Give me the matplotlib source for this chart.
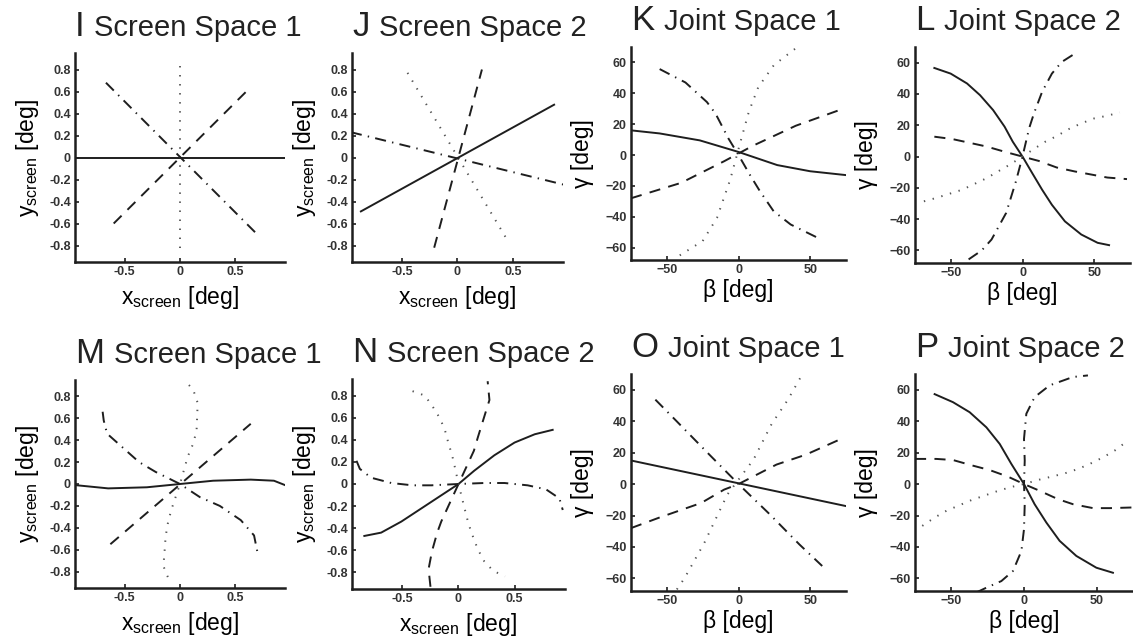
import matplotlib
matplotlib.use('Agg')
import matplotlib.pyplot as plt

plt.rcParams['font.family'] = ['Liberation Sans', 'DejaVu Sans']
plt.rcParams['mathtext.default'] = 'regular'
plt.rcParams['lines.scale_dashes'] = False

# panel titles
letters = ['I', 'J', 'K', 'L', 'M', 'N', 'O', 'P']
titles = ['Screen Space 1', 'Screen Space 2', 'Joint Space 1', 'Joint Space 2',
          'Screen Space 1', 'Screen Space 2', 'Joint Space 1', 'Joint Space 2']

screen_xticks = [-0.5, 0, 0.5]
screen_yticks = [-0.8, -0.6, -0.4, -0.2, 0, 0.2, 0.4, 0.6, 0.8]
joint_xticks = [-50, 0, 50]
joint_yticks = [-60, -40, -20, 0, 20, 40, 60]

# curves as (x, y) points
# I: screen space 1
i_solid = [(-0.95, 0), (0.95, 0)]
i_dash = [(-0.6, -0.6), (0.6, 0.6)]
i_dot = [(0, -0.82), (0, 0.9)]
i_dashdot = [(-0.67, 0.68), (0.68, -0.68)]

# J: screen space 2
j_solid = [(-0.87, -0.49), (0.87, 0.48)]
j_dash = [(-0.21, -0.82), (0.22, 0.8)]
j_dot = [(-0.45, 0.77), (0.46, -0.77)]
j_dashdot = [(-0.96, 0.23), (0.97, -0.25)]

# K: joint space 1
k_solid = [(-75, 16), (-55, 14), (-27, 9.5), (0, 2), (27, -6.5), (50, -10.5), (75, -13)]
k_dash = [(-75, -28), (-40, -18), (-10, -4), (10, 6), (40, 19), (73, 30)]
k_dot = [(-41, -65), (-25, -55.7), (-15, -40.7), (-5.8, -16), (2, 10.7),
         (7.2, 28), (13.8, 44), (24.7, 58.3), (39.7, 69)]
k_dashdot = [(-55, 55.7), (-37, 47), (-22, 34.3), (-16, 26.8), (-7, 10.7), (0, 0),
             (8, -12.9), (15, -23.5), (24.5, -36.4), (36.4, -45), (55, -53.5)]

# L: joint space 2
l_solid = [(-61.5, 56.6), (-50.1, 53.0), (-38.7, 46.7), (-29.6, 39.2), (-20.5, 29.7),
           (-12.5, 19.1), (-6.8, 9.5), (0, 0), (6.8, -10.6), (13.7, -21.2),
           (20.5, -30.8), (29.6, -41.4), (41, -49.8), (52.4, -55.1), (60.4, -56.6)]
l_dash = [(-61.5, 12.7), (-49, 11.2), (-25, 6.4), (-11.4, 2.8), (0, 0), (11.4, -2.8),
          (23.9, -7), (36.4, -9.5), (59.2, -13.4), (72.9, -14.4)]
l_dot = [(-68.8, -28.6), (-60.4, -26.5), (-42.1, -21.2), (-25, -13.8), (-17.1, -9.5),
         (-9.1, -5.3), (0, 0), (8, 4.9), (15.9, 9.5), (23.9, 13.1), (31.9, 17.4),
         (41, 21.2), (50.1, 24.4), (59.2, 26.1), (67.9, 28.2)]
l_dashdot = [(-37.6, -65.7), (-28.5, -60), (-21.6, -53), (-11.4, -36), (-4.6, -15.9),
             (0, 0), (4.6, 18), (8, 27.6), (13.7, 41.4), (20.5, 53), (27.3, 60.4),
             (36.4, 65.7)]

# M: screen space 1
m_solid = [(-0.95, -0.01), (-0.65, -0.04), (-0.3, -0.03), (0, 0), (0.3, 0.03),
           (0.64, 0.04), (0.85, 0.03), (0.95, -0.01)]
m_dash = [(-0.63, -0.55), (0.64, 0.55)]
m_dot = [(-0.11, -0.85), (-0.15, -0.75), (-0.14, -0.62), (-0.13, -0.48), (-0.11, -0.36),
         (-0.08, -0.24), (0, 0), (0.07, 0.25), (0.12, 0.37), (0.15, 0.49),
         (0.16, 0.74), (0.12, 0.86), (0.04, 0.95)]
m_dashdot = [(-0.7, 0.66), (-0.69, 0.58), (-0.66, 0.46), (-0.37, 0.2), (-0.22, 0.11),
             (0, 0), (0.18, -0.12), (0.36, -0.2), (0.55, -0.33), (0.67, -0.47),
             (0.7, -0.62)]

# N: screen space 2
n_solid = [(-0.84, -0.47), (-0.69, -0.44), (-0.51, -0.34), (-0.33, -0.22), (-0.15, -0.1),
           (0, 0), (0.14, 0.12), (0.32, 0.26), (0.5, 0.375), (0.68, 0.45), (0.84, 0.49)]
n_dash = [(-0.25, -0.93), (-0.267, -0.77), (-0.237, -0.61), (-0.19, -0.44),
          (-0.154, -0.34), (0, 0), (0.137, 0.3), (0.172, 0.42), (0.23, 0.61),
          (0.276, 0.76), (0.26, 0.93)]
n_dot = [(-0.41, 0.84), (-0.30, 0.80), (-0.23, 0.70), (-0.163, 0.59), (-0.119, 0.48),
         (-0.089, 0.366), (-0.056, 0.256), (-0.027, 0.128), (0, 0), (0.03, -0.122),
         (0.059, -0.24), (0.089, -0.36), (0.128, -0.473), (0.172, -0.59),
         (0.23, -0.70), (0.31, -0.786), (0.415, -0.836)]
n_dashdot = [(-0.91, 0.21), (-0.88, 0.137), (-0.78, 0.057), (-0.6, 0.009), (-0.41, -0.012),
             (-0.243, -0.012), (0, 0), (0.23, 0.009), (0.41, 0.009), (0.617, -0.012),
             (0.78, -0.048), (0.9, -0.13), (0.93, -0.235)]

# O: joint space 1
o_solid = [(-75, 15), (75, -14)]
o_dash = [(-75, -28), (-55.8, -21.5), (-26, -12), (-10, -3.5), (0, 0), (12.8, 6),
          (26.5, 12.4), (47, 18.7), (73, 29.3)]
o_dot = [(-43, -67), (-37.5, -59.6), (-23.8, -37.3), (-7.8, -6.7), (10.5, 15.6),
         (23.1, 38.2), (34.5, 53.7), (43.7, 68.5)]
o_dashdot = [(-58, 53.7), (-43.2, 40), (-21.5, 19.8), (0, 0), (22, -19.4),
             (42.5, -38.4), (58.4, -52.1)]

# P: joint space 2
p_solid = [(-61.5, 57.2), (-48.9, 52.1), (-37.4, 45.7), (-25.9, 36.1), (-16.7, 25.5),
           (-8.7, 12.8), (0, 0), (7.3, -12.8), (15.4, -24.5), (24.5, -36.1),
           (36, -45.7), (49.8, -53.2), (61.2, -56.4)]
p_dash = [(-75, 16), (-60.3, 16), (-48.9, 15.3), (-35.1, 11.7), (-23.6, 8.9), (-11, 4.7),
          (0, 0), (10.8, -4.3), (23.4, -9.6), (33.7, -12.8), (47.5, -15.3),
          (58.9, -15.3), (73.9, -14.9)]
p_dot = [(-70, -26.6), (-61.5, -21.3), (-53.4, -17), (-36.2, -10.2), (-19, -4.7),
         (-9.9, -2.1), (0, 0), (9.6, 2.6), (28, 6.8), (37.2, 9.6), (45.2, 12.8),
         (54.4, 17), (62.4, 21.3), (70, 26.6)]
p_dashdot = [(-33, -69), (-25.9, -65.9), (-15.6, -61.7), (-7.6, -55.3), (-1.8, -42.6),
             (0, -28.7), (0.5, -12.8), (0, 0), (0.5, 14.9), (0, 28.7), (1.6, 44.7),
             (7.3, 55.3), (17.7, 62.8), (33.7, 68.1), (44, 69.1)]

panels = [
    (i_solid, i_dash, i_dot, i_dashdot),
    (j_solid, j_dash, j_dot, j_dashdot),
    (k_solid, k_dash, k_dot, k_dashdot),
    (l_solid, l_dash, l_dot, l_dashdot),
    (m_solid, m_dash, m_dot, m_dashdot),
    (n_solid, n_dash, n_dot, n_dashdot),
    (o_solid, o_dash, o_dot, o_dashdot),
    (p_solid, p_dash, p_dot, p_dashdot),
]

# axes boxes in pixels: left, top, right, bottom
boxes = [
    (75, 53, 285, 262), (352, 53, 563, 262), (631, 47, 846, 260), (915, 47, 1130, 263),
    (75, 380, 285, 588), (352, 379, 565, 589), (631, 374, 846, 591), (915, 374, 1133, 591),
]

W, H = 1133, 636
ink = '#1e1e1e'
styles = [
    dict(linestyle='-', color=ink, linewidth=1.4),
    dict(dashes=(8, 6), color=ink, linewidth=1.4),
    dict(dashes=(1, 5.5), color='#555555', linewidth=1.4),
    dict(dashes=(8, 4.5, 1, 4.5), color=ink, linewidth=1.4),
]

fig = plt.figure(figsize=(W / 100, H / 100), dpi=100)

for k, (curves, box) in enumerate(zip(panels, boxes)):
    left, top, right, bottom = box
    ax = fig.add_axes([left / W, 1 - bottom / H, (right - left) / W, (bottom - top) / H])
    for pts, st in zip(curves, styles):
        xs = [p[0] for p in pts]
        ys = [p[1] for p in pts]
        ax.plot(xs, ys, **st)

    screen = k % 4 < 2
    if screen:
        ax.set_xlim(-0.95, 0.95)
        ax.set_ylim(-0.95, 0.95)
        ax.set_xticks(screen_xticks)
        ax.set_yticks(screen_yticks)
        ax.set_xticklabels(['-0.5', '0', '0.5'])
        ax.set_yticklabels(['%g' % v for v in screen_yticks])
        ax.set_xlabel('x$_{screen}$ [deg]', fontsize=16.5, labelpad=4)
        ax.set_ylabel('y$_{screen}$ [deg]', fontsize=16.5, labelpad=6)
    else:
        ax.set_xlim(-75, 75)
        ax.set_ylim(-68, 70)
        ax.set_xticks(joint_xticks)
        ax.set_yticks(joint_yticks)
        ax.set_xlabel('β [deg]', fontsize=16.5, labelpad=2)
        ax.set_ylabel('γ [deg]', fontsize=16.5, labelpad=8)

    for side in ['top', 'right']:
        ax.spines[side].set_visible(False)
    for side in ['left', 'bottom']:
        ax.spines[side].set_linewidth(1.8)
        ax.spines[side].set_color(ink)
    ax.tick_params(direction='in', length=3, width=1.2, labelsize=9, pad=3,
                   colors=ink)
    for lab in ax.get_xticklabels() + ax.get_yticklabels():
        lab.set_fontweight('bold')
        lab.set_color('#333333')

    # panel letter + title
    ty = 1 + 17 / (bottom - top)
    lt = ax.text(0, ty, letters[k], transform=ax.transAxes, fontsize=25,
                 va='baseline', ha='left', color='#222222')
    ax.annotate(titles[k], xy=(1, ty), xycoords=(lt, 'axes fraction'),
                xytext=(7, 0), textcoords='offset points', fontsize=21,
                va='baseline', ha='left', color='#222222')

fig.savefig('out.png', dpi=100)
